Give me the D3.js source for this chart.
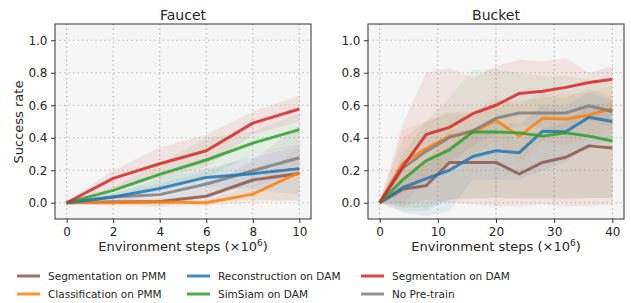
<!DOCTYPE html>
<html>
<head>
<meta charset="utf-8">
<script src="https://cdn.jsdelivr.net/npm/d3@7"></script>
<style>
  body { margin: 0; background: #fff; }
  text { font-family: "DejaVu Sans", sans-serif; fill: #262626; }
</style>
</head>
<body>
<div id="chart"></div>
<script>
const width = 631;
const height = 303;

// methods, in legend order
const methods = ["Segmentation on PMM", "Classification on PMM", "Reconstruction on DAM",
                 "SimSiam on DAM", "Segmentation on DAM", "No Pre-train"];
const colors = ["#8c564b", "#ff7f0e", "#1f77b4", "#2ca02c", "#d62728", "#7f7f7f"];
// draw order (back to front)
const drawOrder = ["Segmentation on PMM", "Classification on PMM", "No Pre-train",
                   "Reconstruction on DAM", "SimSiam on DAM", "Segmentation on DAM"];

// ---- Faucet ----
const faucetSteps = [0, 2, 4, 6, 8, 10];
const faucetMean = {
  "Segmentation on DAM":   [0, 0.15, 0.24, 0.32, 0.49, 0.577],
  "SimSiam on DAM":        [0, 0.076, 0.175, 0.263, 0.367, 0.45],
  "Reconstruction on DAM": [0, 0.035, 0.088, 0.156, 0.179, 0.21],
  "No Pre-train":          [0, 0.035, 0.05, 0.115, 0.197, 0.277],
  "Segmentation on PMM":   [0, 0.004, 0.008, 0.04, 0.14, 0.18],
  "Classification on PMM": [0, 0.0, 0.005, 0.0, 0.053, 0.187]
};
const faucetLow = {
  "Segmentation on DAM":   [0, 0.09, 0.15, 0.22, 0.42, 0.5],
  "SimSiam on DAM":        [0, 0.04, 0.1, 0.15, 0.3, 0.35],
  "Reconstruction on DAM": [0, 0.01, 0.04, 0.1, 0.08, 0.05],
  "No Pre-train":          [0, 0.01, -0.03, 0.04, 0.1, 0.18],
  "Segmentation on PMM":   [0, -0.01, -0.01, 0.0, 0.02, 0.01],
  "Classification on PMM": [0, -0.02, -0.02, -0.02, 0.0, 0.02]
};
const faucetHigh = {
  "Segmentation on DAM":   [0, 0.2, 0.34, 0.42, 0.56, 0.66],
  "SimSiam on DAM":        [0, 0.1, 0.24, 0.4, 0.44, 0.55],
  "Reconstruction on DAM": [0, 0.06, 0.15, 0.21, 0.28, 0.35],
  "No Pre-train":          [0, 0.06, 0.12, 0.19, 0.3, 0.36],
  "Segmentation on PMM":   [0, 0.02, 0.03, 0.1, 0.26, 0.48],
  "Classification on PMM": [0, 0.02, 0.02, 0.02, 0.1, 0.35]
};

// ---- Bucket ----
const bucketSteps = [0, 4, 8, 12, 16, 20, 24, 28, 32, 36, 40];
const bucketMean = {
  "Segmentation on DAM":   [0, 0.224, 0.42, 0.464, 0.548, 0.60, 0.673, 0.686, 0.71, 0.74, 0.76],
  "Classification on PMM": [0, 0.244, 0.333, 0.41, 0.433, 0.507, 0.41, 0.52, 0.515, 0.54, 0.58],
  "No Pre-train":          [0, 0.213, 0.316, 0.402, 0.443, 0.52, 0.552, 0.552, 0.552, 0.597, 0.56],
  "SimSiam on DAM":        [0, 0.142, 0.259, 0.326, 0.435, 0.435, 0.43, 0.41, 0.43, 0.41, 0.38],
  "Reconstruction on DAM": [0, 0.094, 0.148, 0.2, 0.285, 0.32, 0.308, 0.44, 0.437, 0.526, 0.5],
  "Segmentation on PMM":   [0, 0.084, 0.105, 0.248, 0.248, 0.248, 0.177, 0.248, 0.28, 0.35, 0.337]
};
const bucketLow = {
  "Segmentation on DAM":   [0, -0.02, 0.02, 0.0, -0.01, -0.02, -0.02, -0.01, -0.02, -0.02, -0.01],
  "Classification on PMM": [0, 0.05, 0.15, 0.25, 0.3, 0.38, 0.25, 0.38, 0.35, 0.4, 0.45],
  "No Pre-train":          [0, 0.0, 0.12, 0.25, 0.35, 0.42, 0.48, 0.45, 0.45, 0.5, 0.47],
  "SimSiam on DAM":        [0, -0.05, -0.05, 0.02, 0.03, 0.03, 0.03, 0.03, 0.03, 0.03, 0.03],
  "Reconstruction on DAM": [0, -0.06, -0.08, -0.05, 0.14, 0.14, 0.14, 0.2, 0.25, 0.35, 0.38],
  "Segmentation on PMM":   [0, -0.03, -0.03, 0.02, 0.02, 0.03, 0.02, 0.02, 0.02, 0.03, 0.03]
};
const bucketHigh = {
  "Segmentation on DAM":   [0, 0.49, 0.8, 0.83, 0.77, 0.84, 0.88, 0.87, 0.89, 0.8, 0.84],
  "Classification on PMM": [0, 0.45, 0.5, 0.56, 0.56, 0.65, 0.6, 0.68, 0.67, 0.68, 0.72],
  "No Pre-train":          [0, 0.4, 0.5, 0.55, 0.55, 0.62, 0.63, 0.65, 0.65, 0.7, 0.65],
  "SimSiam on DAM":        [0, 0.3, 0.5, 0.65, 0.82, 0.82, 0.8, 0.78, 0.78, 0.76, 0.75],
  "Reconstruction on DAM": [0, 0.15, 0.25, 0.35, 0.42, 0.5, 0.48, 0.6, 0.6, 0.68, 0.63],
  "Segmentation on PMM":   [0, 0.2, 0.25, 0.45, 0.45, 0.45, 0.4, 0.45, 0.5, 0.6, 0.62]
};

const yTicks = [0, 0.2, 0.4, 0.6, 0.8, 1.0];
const color = d3.scaleOrdinal().domain(methods).range(colors);

const svg = d3.select("#chart").append("svg")
  .attr("width", width).attr("height", height);

const panels = [
  {title: "Faucet", steps: faucetSteps, mean: faucetMean, low: faucetLow, high: faucetHigh,
   left: 55, right: 311, xDomain: [-0.5, 10.5], xTicks: [0, 2, 4, 6, 8, 10]},
  {title: "Bucket", steps: bucketSteps, mean: bucketMean, low: bucketLow, high: bucketHigh,
   left: 368, right: 624, xDomain: [-2, 42], xTicks: [0, 10, 20, 30, 40]}
];
const plotTop = 24, plotBottom = 219;

panels.forEach(p => {
  const x = d3.scaleLinear().domain(p.xDomain).range([p.left, p.right]);
  const y = d3.scaleLinear().domain([-0.1, 1.1]).range([plotBottom, plotTop]);
  const g = svg.append("g");
  const clipId = "clip-" + p.title;
  g.append("clipPath").attr("id", clipId).append("rect")
    .attr("x", p.left).attr("y", plotTop).attr("width", p.right - p.left).attr("height", plotBottom - plotTop);

  g.append("rect").attr("x", p.left).attr("y", plotTop)
    .attr("width", p.right - p.left).attr("height", plotBottom - plotTop)
    .attr("fill", "#f5f5f5");

  // grid
  g.selectAll(".vgrid").data(p.xTicks).join("line")
    .attr("x1", d => x(d)).attr("x2", d => x(d)).attr("y1", plotTop).attr("y2", plotBottom)
    .attr("stroke", "#b0b0b0").attr("stroke-width", 1.2).attr("stroke-dasharray", "1.2,3.3");
  g.selectAll(".hgrid").data(yTicks).join("line")
    .attr("y1", d => y(d)).attr("y2", d => y(d)).attr("x1", p.left).attr("x2", p.right)
    .attr("stroke", "#b0b0b0").attr("stroke-width", 1.2).attr("stroke-dasharray", "1.2,3.3");

  const plot = g.append("g").attr("clip-path", `url(#${clipId})`);
  const area = d3.area().x((d, i) => x(p.steps[i])).y0(d => y(d[0])).y1(d => y(d[1]));
  const line = d3.line().x((d, i) => x(p.steps[i])).y(d => y(d));

  drawOrder.forEach(m => {
    const band = p.low[m].map((v, i) => [v, p.high[m][i]]);
    plot.append("path").attr("d", area(band))
      .attr("fill", color(m)).attr("fill-opacity", 0.085);
  });
  drawOrder.forEach(m => {
    plot.append("path").attr("d", line(p.mean[m]))
      .attr("fill", "none").attr("stroke", color(m)).attr("stroke-width", 3)
      .attr("stroke-opacity", 0.85).attr("stroke-linejoin", "round");
  });

  // axes
  const xAxis = g.append("g").attr("transform", `translate(0,${plotBottom})`)
    .call(d3.axisBottom(x).tickValues(p.xTicks).tickSize(4).tickPadding(4).tickFormat(d3.format("d")));
  const yAxis = g.append("g").attr("transform", `translate(${p.left},0)`)
    .call(d3.axisLeft(y).tickValues(yTicks).tickSize(4).tickPadding(3.5).tickFormat(d3.format(".1f")));
  [xAxis, yAxis].forEach(a => {
    a.select(".domain").remove();
    a.selectAll(".tick line").attr("stroke", "#333");
    a.selectAll(".tick text").attr("font-size", 12).attr("fill", "#262626")
      .attr("font-family", "DejaVu Sans");
  });

  g.append("rect").attr("x", p.left).attr("y", plotTop)
    .attr("width", p.right - p.left).attr("height", plotBottom - plotTop)
    .attr("fill", "none").attr("stroke", "#333").attr("stroke-width", 1);

  g.append("text").attr("x", (p.left + p.right) / 2).attr("y", 19.5)
    .attr("text-anchor", "middle").attr("font-size", 14).text(p.title);

  const xl = g.append("text").attr("x", (p.left + p.right) / 2).attr("y", 251)
    .attr("text-anchor", "middle").attr("font-size", 13);
  xl.append("tspan").text("Environment steps (×10");
  xl.append("tspan").attr("dy", -5).attr("font-size", 9).text("6");
  xl.append("tspan").attr("dy", 5).text(")");
});

svg.append("text").attr("transform", "translate(23,122) rotate(-90)")
  .attr("text-anchor", "middle").attr("font-size", 13).text("Success rate");

// legend: 3 columns x 2 rows, filled column-wise
const legendCols = [17, 187, 361];
const legendRows = [276, 294];
const legend = svg.append("g").selectAll("g").data(methods).join("g")
  .attr("transform", (d, i) => `translate(${legendCols[Math.floor(i / 2)]},${legendRows[i % 2]})`);
legend.append("line").attr("x1", 0).attr("x2", 23).attr("y1", 0).attr("y2", 0)
  .attr("stroke", d => color(d)).attr("stroke-width", 3).attr("stroke-opacity", 0.85);
legend.append("text").attr("x", 31).attr("y", 4).attr("font-size", 10.5).text(d => d);
</script>
</body>
</html>
